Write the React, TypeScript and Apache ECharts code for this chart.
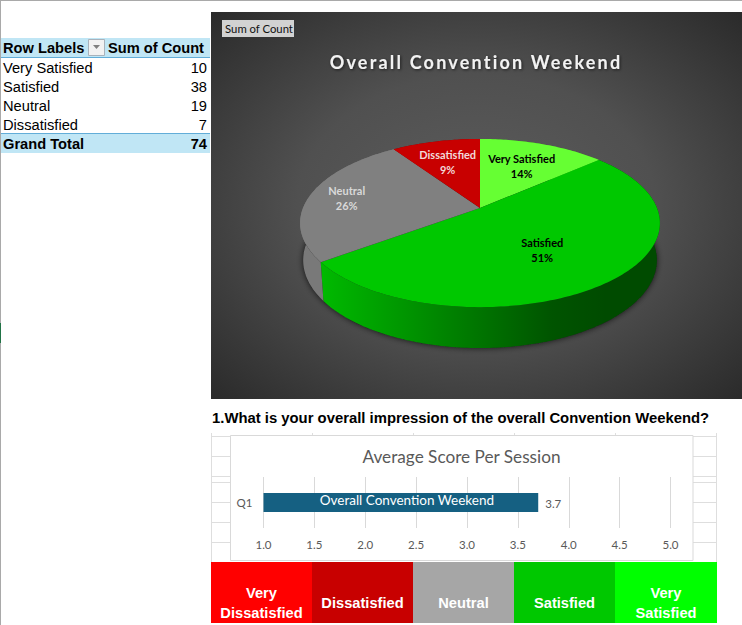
import React, { useEffect, useRef } from "react";
import * as echarts from "echarts";

const pieCategories = ["Very Satisfied", "Satisfied", "Neutral", "Dissatisfied"];
const pieValues = [10, 38, 19, 7];
const grandTotalLabel = "Grand Total";
const tableHeaders = ["Row Labels", "Sum of Count"];
const pivotFieldButton = "Sum of Count";
const pieTitle = "Overall Convention Weekend";
const question = "1.What is your overall impression of the overall Convention Weekend?";
const barTitle = "Average Score Per Session";
const barCategories = ["Q1"];
const barValues = [3.7];
const barName = "Overall Convention Weekend";
const scaleLabels = ["Very\nDissatisfied", "Dissatisfied", "Neutral", "Satisfied", "Very\nSatisfied"];

const SANS = '"Liberation Sans", Arial, sans-serif';
const CAL = 'Lato, "Open Sans", sans-serif';
const pieColors = ["#66ff33", "#00c800", "#808080", "#c80000"];
const pieLabelColors = ["#000000", "#000000", "#d9d9d9", "#f2d9d9"];
const pieLabelRadius = [0.63, 0.55, 0.776, 0.65];
const pieLabelShift = [[0, 0], [-4, 4], [-1, 0], [-2, 0]];
const scaleColors = ["#ff0000", "#c80000", "#a6a6a6", "#00c800", "#00ff00"];
const sheetRows = [436.5, 456.5, 476.5, 482.5, 502.5, 522.5, 542.5];
const sheetCols = [312.5, 413.5, 514.5, 615.5];

// Perspective projection of the pie disc
const CX = 480;
const K = 0.179;
const TOP = { y: 208, a: 81.4, b: 177 };
const BASE = { y: 244.5, a: 85, b: 174 };
const total = pieValues.reduce((s, v) => s + v, 0);
const project = (deg: number, r: number, p: { y: number; a: number; b: number }) => {
  const t = (deg * Math.PI) / 180;
  const u = r * Math.sin(t);
  const v = r * Math.cos(t);
  const w = 1 + K * v;
  return [CX + (p.b * u) / w, p.y - (p.a * v) / w];
};
const sliceRange = (i: number) => {
  const before = pieValues.slice(0, i).reduce((s, v) => s + v, 0);
  return [(before / total) * 360, ((before + pieValues[i]) / total) * 360];
};
const rim = (a0: number, a1: number, p: { y: number; a: number; b: number }) => {
  const n = Math.max(2, Math.ceil(Math.abs(a1 - a0)));
  const out: number[][] = [];
  for (let j = 0; j <= n; j++) out.push(project(a0 + ((a1 - a0) * j) / n, 1, p));
  return out;
};
const hGrad = (stops: [number, string][]) => ({
  type: "linear",
  global: true,
  x: 300,
  y: 0,
  x2: 660,
  y2: 0,
  colorStops: stops.map(([offset, color]) => ({ offset, color })),
});
const wallFill = [
  "#44aa22",
  hGrad([
    [0, "#00c800"],
    [0.07, "#00b800"],
    [0.3, "#009400"],
    [0.5, "#007400"],
    [0.7, "#005400"],
    [0.85, "#004b00"],
    [1, "#004b00"],
  ]),
  "#797979",
  "#800000",
];

const renderWall = (params: any) => {
  const i = params.dataIndex;
  const [a0, a1] = sliceRange(i);
  const children: any[] = [];
  if (i === 0) {
    children.push({
      type: "polygon",
      shape: { points: rim(0, 360, BASE) },
      style: { fill: "#222222", shadowBlur: 6, shadowColor: "rgba(0,0,0,0.75)", shadowOffsetX: 0, shadowOffsetY: 0 },
    });
  }
  children.push({
    type: "polygon",
    shape: { points: [...rim(a0, a1, TOP), ...rim(a1, a0, BASE)] },
    style: { fill: wallFill[i] },
  });
  return { type: "group", children };
};

const renderTop = (params: any) => {
  const i = params.dataIndex;
  const [a0, a1] = sliceRange(i);
  const mid = (a0 + a1) / 2;
  const [lx, ly] = project(mid, pieLabelRadius[i], TOP);
  const pct = Math.round((pieValues[i] / total) * 100);
  return {
    type: "group",
    children: [
      {
        type: "polygon",
        shape: { points: [project(0, 0, TOP), ...rim(a0, a1, TOP)] },
        style: { fill: pieColors[i] },
      },
      {
        type: "text",
        z2: 10,
        style: {
          text: `${pieCategories[i]}\n${pct}%`,
          x: lx + pieLabelShift[i][0],
          y: ly + pieLabelShift[i][1],
          align: "center",
          verticalAlign: "middle",
          fill: pieLabelColors[i],
          font: `bold 11px ${CAL}`,
          lineHeight: 15,
        },
      },
    ],
  };
};

const text = (t: string, x: number, y: number, extra: any = {}) => ({
  type: "text",
  silent: true,
  style: {
    text: t,
    x,
    y,
    align: "left",
    verticalAlign: "middle",
    fill: "#000000",
    font: `14.67px ${SANS}`,
    ...extra,
  },
});
const rect = (x: number, y: number, width: number, height: number, fill: any, extra: any = {}) => ({
  type: "rect",
  silent: true,
  shape: { x, y, width, height },
  style: { fill, ...extra },
});
const line = (x1: number, y1: number, x2: number, y2: number, stroke: string) => ({
  type: "line",
  silent: true,
  shape: { x1, y1, x2, y2 },
  style: { stroke, lineWidth: 1 },
});

const buildGraphics = () => {
  const els: any[] = [];
  // window edges
  els.push(rect(0, 0, 742, 1, "#a9a9a9"), rect(0, 0, 1, 625, "#a9a9a9"), rect(0, 323, 1, 20, "#217346"));
  // pivot table
  els.push(rect(1, 38, 209, 19, "#c0e6f5"), rect(1, 57, 209, 1, "#62add8"));
  els.push(text(tableHeaders[0], 3, 48, { font: `bold 14.67px ${SANS}` }));
  els.push(text(tableHeaders[1], 204, 48, { font: `bold 14.67px ${SANS}`, align: "right" }));
  els.push(
    rect(88.5, 39.5, 16, 16, "#f2f2f2", { stroke: "#a9b2bb", lineWidth: 1 }),
    {
      type: "polygon",
      silent: true,
      shape: { points: [[93, 45], [100, 45], [96.5, 49]] },
      style: { fill: "#808080" },
    }
  );
  pieCategories.forEach((c, i) => {
    const y = 67.5 + i * 19;
    els.push(text(c, 3, y), text(String(pieValues[i]), 207, y, { align: "right" }));
  });
  els.push(rect(1, 133, 209, 20, "#c0e6f5"), rect(1, 133, 209, 1, "#62add8"));
  els.push(text(grandTotalLabel, 3, 143.5, { font: `bold 14.67px ${SANS}` }));
  els.push(text(String(total), 207, 143.5, { font: `bold 14.67px ${SANS}`, align: "right" }));
  // dark panel
  els.push(
    rect(211, 12, 531, 387, {
      type: "radial",
      x: 0.5,
      y: 0.5,
      r: 0.75,
      colorStops: [
        { offset: 0, color: "#5c5c5c" },
        { offset: 0.45, color: "#505050" },
        { offset: 1, color: "#262626" },
      ],
    })
  );
  els.push(rect(222, 20, 72, 17, "#d2d2d2"));
  els.push(text(pivotFieldButton, 259, 28.5, { font: `11.3px ${CAL}`, align: "center", fill: "#111111" }));
  // question
  els.push(text(question, 212, 418, { font: `bold 14.85px ${SANS}` }));
  // sheet grid behind the bar chart
  sheetRows.forEach((y) => els.push(line(211, y, 717, y, "#dedede")));
  sheetCols.forEach((x) => els.push(line(x, 433, x, 436, "#dedede")));
  els.push(line(211.5, 433, 211.5, 562, "#dedede"), line(716.5, 433, 716.5, 562, "#dedede"));
  els.push(rect(230.5, 435.5, 462.5, 125, "#ffffff", { stroke: "#d9d9d9", lineWidth: 1 }));
  // rating scale
  const edges = [211, 312, 413, 514, 615, 717];
  scaleLabels.forEach((l, i) => {
    els.push(rect(edges[i], 562, edges[i + 1] - edges[i], 61, scaleColors[i]));
    els.push(
      text(l, (edges[i] + edges[i + 1]) / 2, 603, {
        font: `bold 14.67px ${SANS}`,
        align: "center",
        fill: "#ffffff",
        lineHeight: 20,
      })
    );
  });
  return els;
};

export default function App() {
  const ref = useRef<HTMLDivElement>(null);
  useEffect(() => {
    if (!ref.current) return;
    const chart = echarts.init(ref.current, undefined, { renderer: "svg" });
    const spaceTitle = () => {
      ref.current?.querySelectorAll("text").forEach((t) => {
        const s = t.getAttribute("style") || "";
        if (t.textContent === pieTitle && s.includes("18px")) t.style.letterSpacing = "2.2px";
      });
    };
    chart.on("rendered", spaceTitle);
    chart.setOption({
      animation: false,
      backgroundColor: "#ffffff",
      graphic: { z: 1, elements: buildGraphics() },
      title: [
        {
          text: pieTitle,
          left: 476,
          top: 53,
          padding: 0,
          textAlign: "center",
          z: 8,
          textStyle: {
            color: "#f2f2f2",
            fontFamily: CAL,
            fontSize: 18,
            fontWeight: "bold",
            textShadowColor: "rgba(0,0,0,0.6)",
            textShadowBlur: 3,
            textShadowOffsetX: 1,
            textShadowOffsetY: 1,
          },
        },
        {
          text: barTitle,
          left: 461.5,
          top: 448,
          padding: 0,
          textAlign: "center",
          z: 8,
          textStyle: { color: "#595959", fontFamily: CAL, fontSize: 17.2, fontWeight: "normal" },
        },
      ],
      grid: { left: 263.5, top: 477, width: 407, height: 51, containLabel: false },
      xAxis: {
        type: "value",
        min: 1,
        max: 5,
        interval: 0.5,
        z: 5,
        axisLine: { show: false },
        axisTick: { show: false },
        splitLine: { show: true, lineStyle: { color: "#d9d9d9", width: 1 } },
        axisLabel: {
          color: "#595959",
          fontFamily: CAL,
          fontSize: 11.5,
          margin: 10,
          formatter: (v: number) => v.toFixed(1),
        },
      },
      yAxis: {
        type: "category",
        data: barCategories,
        z: 5,
        axisLine: { show: false },
        axisTick: { show: false },
        axisLabel: { color: "#595959", fontFamily: CAL, fontSize: 11.5, margin: 11 },
      },
      series: [
        {
          type: "custom",
          coordinateSystem: "none",
          z: 2,
          silent: true,
          data: pieValues,
          renderItem: renderWall,
        },
        {
          type: "custom",
          coordinateSystem: "none",
          z: 3,
          silent: true,
          data: pieValues,
          renderItem: renderTop,
        },
        {
          type: "bar",
          z: 6,
          data: barValues,
          barWidth: 19,
          barGap: "-100%",
          silent: true,
          itemStyle: { color: "#156082" },
          label: {
            show: true,
            position: "right",
            distance: 8,
            offset: [-1, 1],
            color: "#595959",
            fontFamily: CAL,
            fontSize: 11.5,
            formatter: (p: any) => Number(p.value).toFixed(1),
          },
        },
        {
          type: "bar",
          z: 7,
          data: barValues,
          barWidth: 19,
          silent: true,
          itemStyle: { color: "rgba(0,0,0,0)" },
          label: {
            show: true,
            position: "inside",
            offset: [6, -3],
            color: "#ffffff",
            fontFamily: CAL,
            fontSize: 13.5,
            formatter: () => barName,
          },
        },
      ],
    });
    spaceTitle();
    return () => chart.dispose();
  }, []);
  return <div ref={ref} style={{ position: "absolute", left: 0, top: 0, width: 742, height: 625 }} />;
}
